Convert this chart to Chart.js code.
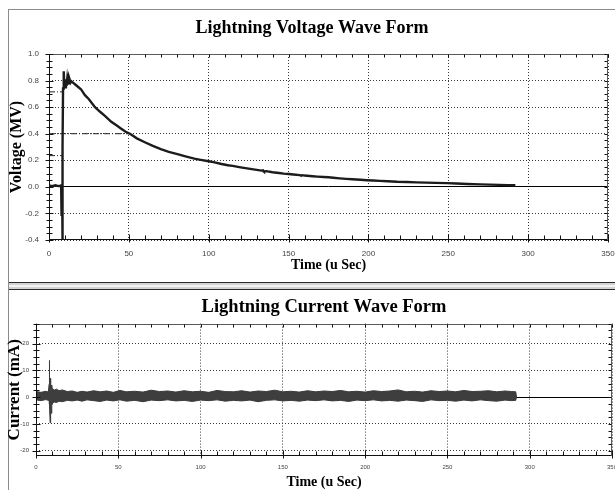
<!DOCTYPE html>
<html><head><meta charset="utf-8">
<script src="https://cdn.jsdelivr.net/npm/chart.js@4.4.0/dist/chart.umd.min.js"></script>
<style>
html,body{margin:0;padding:0;background:#fff;width:615px;height:490px;overflow:hidden;position:relative}
.ln{position:absolute}
canvas{position:absolute;left:0}
</style></head><body>
<div class="ln" style="left:8px;top:9px;width:607px;height:1px;background:#8c8c8c"></div>
<div class="ln" style="left:8px;top:9px;width:1px;height:481px;background:#8c8c8c"></div>
<div class="ln" style="left:9px;top:282px;width:606px;height:1px;background:#2a2a2a"></div>
<div class="ln" style="left:9px;top:283px;width:606px;height:6px;background:#d2d2d2"></div>
<div class="ln" style="left:9px;top:285px;width:606px;height:2px;background:#f2f2f2"></div>
<div class="ln" style="left:9px;top:289px;width:606px;height:1px;background:#2a2a2a"></div>
<canvas id="cv" width="615" height="272" style="top:10px"></canvas>
<canvas id="ci" width="615" height="200" style="top:290px"></canvas>
<script>
// ---------- DATA ----------
const xTicks = [0, 50, 100, 150, 200, 250, 300, 350];
const vTicks = [-0.4, -0.2, 0.0, 0.2, 0.4, 0.6, 0.8, 1.0];
const iTicks = [-20, -10, 0, 10, 20];

// Voltage wave (time in us, voltage in MV)
const tV = [0, 2, 4, 6, 7.6, 7.8, 7.95, 8.2, 8.35, 8.6, 8.8, 9.1, 9.35, 9.6, 9.9, 10.2, 10.6, 11.0, 11.4, 11.8,
  12.2, 12.6, 13.0, 13.5, 14, 15, 17, 20, 22.5, 25, 28.8, 32, 35, 39, 42, 45, 48, 50.7, 55, 60,
  65, 70, 75, 81, 86, 91, 95, 100, 103, 108, 112, 115, 120, 125, 130, 133, 134, 134.6, 136, 140,
  144, 147, 150, 153, 157, 158, 158.6, 160, 165, 168, 172, 175, 178, 182, 186, 190, 195, 199, 203, 207,
  212, 218, 224, 230, 236, 242, 249, 255, 262, 270, 276, 282, 287, 292];
const vV = [0.01, 0.005, 0.012, 0.006, 0.01, -0.22, 0.02, 0.0, -0.40, 0.3, 0.74, 0.82, 0.87, 0.76, 0.81, 0.75, 0.81, 0.76, 0.81, 0.77,
  0.81, 0.78, 0.805, 0.785, 0.795, 0.785, 0.765, 0.735, 0.69, 0.66, 0.60, 0.565, 0.535, 0.49, 0.465, 0.44, 0.415, 0.40, 0.365, 0.336,
  0.308, 0.284, 0.264, 0.244, 0.228, 0.212, 0.203, 0.193, 0.186, 0.172, 0.163, 0.158, 0.147, 0.137, 0.128, 0.122, 0.124, 0.116, 0.118, 0.11,
  0.104, 0.10, 0.097, 0.093, 0.088, 0.084, 0.088, 0.085, 0.08, 0.077, 0.074, 0.072, 0.069, 0.064, 0.06, 0.057, 0.053, 0.05, 0.048, 0.045,
  0.042, 0.038, 0.036, 0.034, 0.032, 0.03, 0.028, 0.025, 0.022, 0.019, 0.017, 0.015, 0.013, 0.012];

// Reference (dash-dot) levels on voltage plot: [t, level]
const ref50 = [[0, 0.40], [50.7, 0.40]];
const ref90 = [[0, 0.715], [8.2, 0.715]];
const ref30 = [[0, 0.235], [8.2, 0.235]];

// Current wave (time in us, current in mA): noise band upper / lower envelope
const tI = [0, 3, 6, 7.5, 8.0, 8.1, 8.3, 8.6, 8.9, 9.2, 9.6, 10.2, 11, 12.5, 14, 16, 19, 22, 25, 28, 31, 35, 39, 43, 47, 51, 55,
  60, 65, 70, 75, 80, 85, 90, 95, 100, 105, 110, 115, 120, 125, 130, 135, 140, 145, 150, 155,
  160, 165, 170, 175, 180, 185, 190, 195, 200, 205, 210, 215, 220, 225, 230, 235, 240, 245, 250, 255,
  260, 265, 270, 275, 280, 285, 289, 291.5, 292];
const iUpper = [2.1, 1.8, 2.2, 1.9, 5, 13.7, 6, 7, 3.5, 4.5, 3.0, 3.2, 2.6, 3.0, 2.4, 2.7, 2.1, 2.3, 1.8, 2.2, 1.9, 2.4, 2.0, 2.3, 1.8, 2.5, 2.0,
  2.2, 1.9, 2.6, 2.1, 2.3, 1.9, 2.4, 2.0, 2.2, 1.8, 2.5, 2.1, 2.0, 2.4, 1.9, 2.3, 2.1, 2.6, 2.0, 2.2,
  1.9, 2.4, 2.0, 2.3, 2.1, 2.5, 2.0, 2.2, 1.9, 2.4, 2.1, 2.3, 2.7, 2.0, 2.2, 1.9, 2.4, 2.1, 2.3, 2.0,
  2.5, 2.1, 2.2, 2.4, 2.0, 2.3, 2.1, 2.0, 0];
const iLower = [-1.0, -1.3, -0.9, -1.2, -1.5, -1.0, -3, -9.6, -5, -6, -3, -2.2, -1.8, -2.0, -1.5, -1.7, -1.2, -1.4, -1.1, -1.5, -1.0, -1.3, -1.6, -1.1, -1.4, -1.0, -1.5,
  -1.2, -1.7, -1.1, -1.3, -1.0, -1.4, -1.2, -1.6, -1.1, -1.3, -1.0, -1.5, -1.2, -1.4, -1.1, -1.7, -1.2, -1.0, -1.4, -1.2,
  -1.5, -1.1, -1.3, -1.0, -1.4, -1.2, -1.6, -1.1, -1.3, -1.0, -1.4, -1.2, -1.5, -1.1, -1.3, -1.6, -1.0, -1.3, -1.2, -1.5,
  -1.1, -1.4, -1.0, -1.3, -1.5, -1.1, -1.3, -1.2, 0];

// ---------- helpers ----------
const pts = (xs, ys) => xs.map((x, i) => ({x, y: ys[i]}));
const pairPts = arr => arr.map(p => ({x: p[0], y: p[1]}));

const framePlugin = {
  id: 'frame',
  afterDatasetsDraw(chart, args, o) {
    const {ctx, chartArea: a, scales: {x, y}} = chart;
    const L = Math.round(a.left) + 0.5, R = Math.round(a.right) - 0.5;
    const T = Math.round(a.top) + 0.5, B = Math.round(a.bottom) - 0.5;
    ctx.save();
    ctx.lineWidth = 1;
    ctx.strokeStyle = '#5a5a5a';
    ctx.beginPath();
    ctx.moveTo(L, T); ctx.lineTo(R, T); ctx.lineTo(R, B);
    ctx.stroke();
    ctx.strokeStyle = '#111';
    ctx.beginPath();
    ctx.moveTo(L, T); ctx.lineTo(L, B); ctx.lineTo(R, B);
    ctx.stroke();
    ctx.beginPath();
    const isMajor = (v, step) => Math.abs(v / step - Math.round(v / step)) < 1e-6;
    let s = Math.ceil(x.min / o.xMinor - 1e-9), e = Math.floor(x.max / o.xMinor + 1e-9);
    for (let k = s; k <= e; k++) {
      const v = k * o.xMinor;
      const px = Math.round(x.getPixelForValue(v)) + 0.5;
      const mj = isMajor(v, o.xMajor);
      ctx.moveTo(px, B + (mj ? 3 : 0)); ctx.lineTo(px, B - (mj ? 5 : 4));
      ctx.moveTo(px, T); ctx.lineTo(px, T + 3);
    }
    s = Math.ceil(y.min / o.yMinor - 1e-9); e = Math.floor(y.max / o.yMinor + 1e-9);
    for (let k = s; k <= e; k++) {
      const v = k * o.yMinor;
      const py = Math.round(y.getPixelForValue(v)) + 0.5;
      const mj = isMajor(v, o.yMajor);
      ctx.moveTo(L - (mj ? 4 : 3), py); ctx.lineTo(L + (mj ? 4 : 3), py);
      ctx.moveTo(R, py); ctx.lineTo(R - 3, py);
    }
    ctx.stroke();
    ctx.restore();
  }
};

const isZero = c => c.tick && Math.abs(c.tick.value) < 1e-9;

function baseScales(cfg) {
  return {
    x: {
      type: 'linear', min: 0, max: 350,
      afterBuildTicks: s => { s.ticks = xTicks.map(v => ({value: v})); },
      afterFit: s => { s.height = cfg.xH; s.paddingRight = cfg.padR; s.paddingLeft = 0; },
      grid: {color: '#3a3a3a', drawTicks: false, lineWidth: 1},
      border: {display: false, dash: [1, 2]},
      ticks: {padding: cfg.xTickPad, color: '#444', maxRotation: 0, autoSkip: false,
        font: {family: 'Liberation Sans, Arial', size: cfg.tickSize}, callback: v => String(v)},
      title: {display: true, text: 'Time (u Sec)', color: '#000',
        font: {family: 'Liberation Serif, Times New Roman', size: 14, weight: 'bold', lineHeight: 1},
        padding: {top: 0, bottom: cfg.xTitlePad}}
    },
    y: {
      type: 'linear', min: cfg.yMin, max: cfg.yMax,
      afterBuildTicks: s => { s.ticks = cfg.yTicks.map(v => ({value: v})); },
      afterFit: s => { s.width = cfg.yW; s.paddingTop = 0; s.paddingBottom = 0; },
      grid: {color: c => isZero(c) ? '#000' : '#3a3a3a', drawTicks: false, lineWidth: 1},
      border: {display: false, dash: c => isZero(c) ? [] : [1, 2]},
      ticks: {padding: cfg.yTickPad, color: '#444', autoSkip: false,
        font: {family: 'Liberation Sans, Arial', size: cfg.tickSize}, callback: cfg.yFmt},
      title: {display: true, text: cfg.yTitle, color: '#000',
        font: {family: 'Liberation Serif, Times New Roman', size: cfg.yTitleSize, weight: 'bold', lineHeight: 1},
        padding: {top: cfg.yTitlePad, bottom: 0}}
    }
  };
}

// ---------- Voltage chart ----------
new Chart(document.getElementById('cv'), {
  type: 'line',
  data: {
    datasets: [
      {data: pairPts(ref50), borderColor: '#222', borderWidth: 1, borderDash: [6, 2, 1, 2], pointRadius: 0, fill: false},
      {data: pairPts(ref90), borderColor: '#222', borderWidth: 1, borderDash: [6, 2, 1, 2], pointRadius: 0, fill: false},
      {data: pairPts(ref30), borderColor: '#222', borderWidth: 1, borderDash: [6, 2, 1, 2], pointRadius: 0, fill: false},
      {data: pts(tV, vV), borderColor: '#1c1c1c', borderWidth: 2.4, pointRadius: 0, fill: false, tension: 0}
    ]
  },
  options: {
    responsive: false, animation: false, devicePixelRatio: 1,
    layout: {padding: {left: 9, right: 0, top: 0, bottom: 0}},
    plugins: {
      legend: {display: false}, tooltip: {enabled: false},
      title: {display: true, text: 'Lightning Voltage Wave Form', color: '#000',
        font: {family: 'Liberation Serif, Times New Roman', size: 18, weight: 'bold', lineHeight: 1.2},
        padding: {top: 8, bottom: 14.4}},
      frame: {xMinor: 10, xMajor: 50, yMinor: 0.05, yMajor: 0.2}
    },
    scales: baseScales({xH: 42, padR: 7, xTickPad: 9, tickSize: 8, xTitlePad: 10,
      yMin: -0.4, yMax: 1.0, yTicks: vTicks, yW: 40, yTickPad: 10, yFmt: v => v.toFixed(1),
      yTitle: 'Voltage (MV)', yTitleSize: 16, yTitlePad: 0})
  },
  plugins: [framePlugin]
});

// ---------- Current chart ----------
new Chart(document.getElementById('ci'), {
  type: 'line',
  data: {
    datasets: [
      {data: pts(tI, iUpper), borderColor: '#3a3a3a', borderWidth: 1, pointRadius: 0, fill: false, tension: 0},
      {data: pts(tI, iLower), borderColor: '#3a3a3a', borderWidth: 1, pointRadius: 0, fill: '-1',
        backgroundColor: '#3e3e3e', tension: 0}
    ]
  },
  options: {
    responsive: false, animation: false, devicePixelRatio: 1,
    layout: {padding: {left: 9, right: 0, top: 0, bottom: 0}},
    plugins: {
      legend: {display: false}, tooltip: {enabled: false},
      filler: {propagate: false},
      title: {display: true, fullSize: false, text: 'Lightning Current Wave Form', color: '#000',
        font: {family: 'Liberation Serif, Times New Roman', size: 18.5, weight: 'bold', lineHeight: 1.2},
        padding: {top: 6.2, bottom: 5.2}},
      frame: {xMinor: 10, xMajor: 50, yMinor: 2.5, yMajor: 10}
    },
    scales: baseScales({xH: 34, padR: 3, xTickPad: 8, tickSize: 6, xTitlePad: 1,
      yMin: -22, yMax: 27.5, yTicks: iTicks, yW: 27, yTickPad: 7, yFmt: v => String(v),
      yTitle: 'Current (mA)', yTitleSize: 17, yTitlePad: -2.8})
  },
  plugins: [framePlugin]
});
</script>
</body></html>
